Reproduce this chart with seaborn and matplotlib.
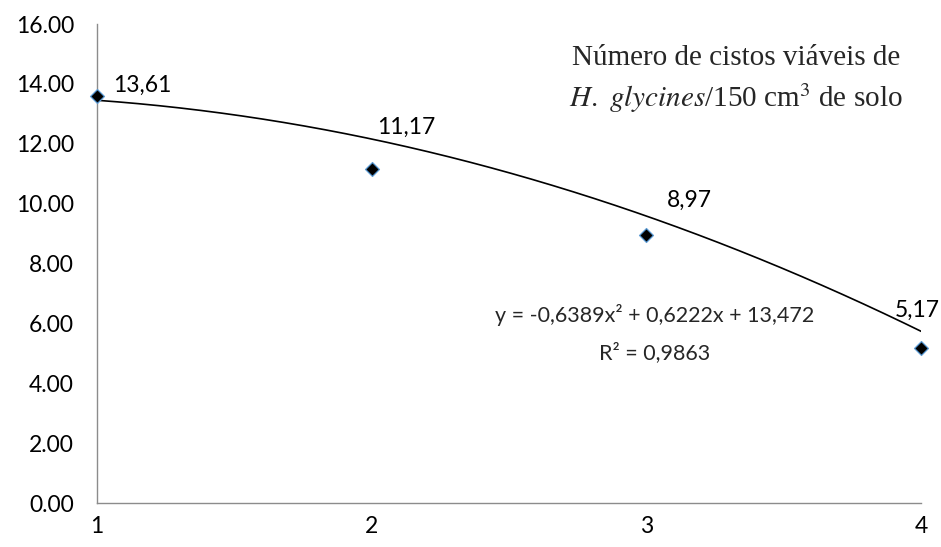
import numpy as np
import pandas as pd
import matplotlib
matplotlib.use("Agg")
import matplotlib.pyplot as plt
import seaborn as sns

# Observed values
x_vals = [1, 2, 3, 4]
y_vals = [13.61, 11.17, 8.97, 5.17]
point_labels = ["13,61", "11,17", "8,97", "5,17"]

# Quadratic trend: y = a x^2 + b x + c
coef_a, coef_b, coef_c = -0.6389, 0.6222, 13.472

y_ticks = [0, 2, 4, 6, 8, 10, 12, 14, 16]
x_ticks = [1, 2, 3, 4]

sns.set_theme(style="white")
plt.rcParams["font.family"] = ["Lato", "DejaVu Sans"]

fig = plt.figure(figsize=(9.41, 5.47), dpi=100)
ax = fig.add_axes([0.103, 0.080, 0.876, 0.876])

pts = pd.DataFrame({"x": x_vals, "y": y_vals})
xs = np.linspace(1, 4, 200)
trend = pd.DataFrame({"x": xs, "y": coef_a * xs**2 + coef_b * xs + coef_c})

sns.lineplot(data=trend, x="x", y="y", ax=ax, color="black", linewidth=1.2)
sns.scatterplot(data=pts, x="x", y="y", ax=ax, marker="D", s=50,
                color="black", edgecolor="#5b9bd5", linewidth=0.9, zorder=5,
                clip_on=False)

# value labels, placed up and to the right of each point
label_pos = [(1.06, 13.95), (2.02, 12.56), (3.075, 10.12), (3.905, 6.45)]
for lab, (lx, ly) in zip(point_labels, label_pos):
    ax.text(lx, ly, lab, fontsize=16.5, ha="left", va="center", color="black")

ax.set_xlim(1, 4)
ax.set_ylim(0, 16)
ax.set_xticks(x_ticks)
ax.set_yticks(y_ticks)
ax.set_yticklabels([f"{t:.2f}" for t in y_ticks])
ax.set_xlabel("")
ax.set_ylabel("")
ax.tick_params(axis="y", labelsize=16.5, labelcolor="black", length=6.5,
               width=1, direction="out", pad=10, color="#8c8c8c")
ax.tick_params(axis="x", labelsize=16.5, labelcolor="black", length=6,
               width=1, direction="out", pad=3, color="#8c8c8c")
for side in ["top", "right"]:
    ax.spines[side].set_visible(False)
for side in ["left", "bottom"]:
    ax.spines[side].set_color("#8c8c8c")
    ax.spines[side].set_linewidth(1)

ax.text(3.03, 6.28, "y = -0,6389x² + 0,6222x + 13,472",
        ha="center", va="center", fontsize=15.5)
ax.text(3.03, 5.04, "R² = 0,9863", ha="center", va="center", fontsize=15.5)

ax.text(0.775, 0.93, "Número de cistos viáveis de",
        transform=ax.transAxes, ha="center", va="center", fontsize=21,
        family=["Liberation Serif"])
ax.text(0.775, 0.845, r"$\it{H.}$ $\it{glycines}$/150 cm$^{3}$ de solo",
        transform=ax.transAxes, ha="center", va="center", fontsize=21,
        family=["Liberation Serif"], math_fontfamily="stix")

fig.savefig("out.png", dpi=100)
